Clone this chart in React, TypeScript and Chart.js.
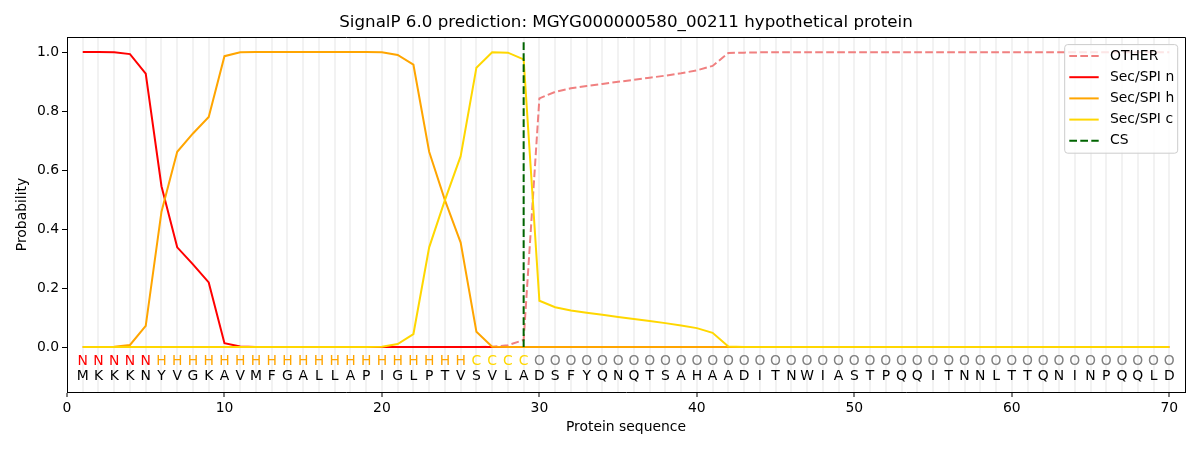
import { useEffect, useRef } from "react"
import { Chart, registerables } from "chart.js"

Chart.register(...registerables)

const FONT = "'DejaVu Sans', sans-serif"

const titleText = "SignalP 6.0 prediction: MGYG000000580_00211 hypothetical protein"

const residues = "MKKKNYVGKAVMFGALLAPIGLPTVSVLADSFYQNQTSAHAADITNWIASTPQQITNNLTTQNINPQQLD".split("")
const regions = (
  "NNNNN" +
  "HHHHHHHHHHHHHHHHHHHH" +
  "CCCC" +
  "OOOOOOOOOO" +
  "OOOOOOOOOO" +
  "OOOOOOOOOO" +
  "OOOOOOOOOO" +
  "O"
).split("")
const positions = residues.map((_, i) => i + 1)

const otherProb = [
  0, 0, 0, 0, 0, 0, 0, 0, 0, 0,
  0, 0, 0, 0, 0, 0, 0, 0, 0, 0,
  0, 0, 0, 0, 0, 0, 0.001, 0.006, 0.024, 0.843,
  0.865, 0.877, 0.885, 0.892, 0.899, 0.906, 0.913, 0.92, 0.928, 0.938,
  0.953, 0.997, 0.998, 0.999, 0.999, 0.999, 0.999, 0.999, 0.999, 0.999,
  0.999, 0.999, 0.999, 0.999, 0.999, 0.999, 0.999, 0.999, 0.999, 0.999,
  0.999, 0.999, 0.999, 0.999, 0.999, 0.999, 0.999, 0.999, 0.999, 0.999,
]
const secN = [
  1.0, 1.0, 0.999, 0.993, 0.927, 0.545, 0.338, 0.28, 0.219, 0.013,
  0.002, 0, 0, 0, 0, 0, 0, 0, 0, 0,
  0, 0, 0, 0, 0, 0, 0, 0, 0, 0,
  0, 0, 0, 0, 0, 0, 0, 0, 0, 0,
  0, 0, 0, 0, 0, 0, 0, 0, 0, 0,
  0, 0, 0, 0, 0, 0, 0, 0, 0, 0,
  0, 0, 0, 0, 0, 0, 0, 0, 0, 0,
]
const secH = [
  0, 0, 0.001, 0.007, 0.072, 0.459, 0.662, 0.724, 0.78, 0.986,
  0.999, 1.0, 1.0, 1.0, 1.0, 1.0, 1.0, 1.0, 1.0, 0.999,
  0.99, 0.957, 0.662, 0.498, 0.354, 0.052, 0.001, 0, 0, 0,
  0, 0, 0, 0, 0, 0, 0, 0, 0, 0,
  0, 0, 0, 0, 0, 0, 0, 0, 0, 0,
  0, 0, 0, 0, 0, 0, 0, 0, 0, 0,
  0, 0, 0, 0, 0, 0, 0, 0, 0, 0,
]
const secC = [
  0, 0, 0, 0, 0, 0, 0, 0, 0, 0,
  0, 0, 0, 0, 0, 0, 0, 0, 0, 0.001,
  0.01, 0.044, 0.338, 0.498, 0.647, 0.947, 0.999, 0.998, 0.975, 0.157,
  0.135, 0.124, 0.116, 0.109, 0.102, 0.095, 0.088, 0.081, 0.073, 0.064,
  0.048, 0.002, 0, 0, 0, 0, 0, 0, 0, 0,
  0, 0, 0, 0, 0, 0, 0, 0, 0, 0,
  0, 0, 0, 0, 0, 0, 0, 0, 0, 0,
]
const cleavageSite = 29
const cleavageSpan = [0, 1.035]

const xMin = 0
const xMax = 71
const yMin = -0.1525
const yMax = 1.051
const yTicks = [0, 0.2, 0.4, 0.6, 0.8, 1.0]
const regionRowY = -0.049
const residueRowY = -0.1

const regionColors: Record<string, string> = {
  N: "#ff0000",
  H: "#ffa500",
  C: "#ffd700",
  O: "#808080",
}

const DASH = [7.7, 3.3]

const legendItems = [
  { label: "OTHER", color: "#f08080", dash: DASH },
  { label: "Sec/SPI n", color: "#ff0000", dash: [] as number[] },
  { label: "Sec/SPI h", color: "#ffa500", dash: [] as number[] },
  { label: "Sec/SPI c", color: "#ffd700", dash: [] as number[] },
  { label: "CS", color: "#006400", dash: DASH },
]

const toPoints = (values: number[]) => values.map((y, i) => ({ x: positions[i], y }))

const overlayPlugin = {
  id: "overlay",
  afterDatasetsDraw(chart: any) {
    const { ctx, chartArea, scales } = chart
    const xs = scales.x
    const ys = scales.y
    ctx.save()

    // residue letters and region letters
    ctx.font = `13.9px ${FONT}`
    ctx.textAlign = "center"
    ctx.textBaseline = "middle"
    positions.forEach((p, i) => {
      const px = xs.getPixelForValue(p)
      ctx.fillStyle = regionColors[regions[i]]
      ctx.fillText(regions[i], px, ys.getPixelForValue(regionRowY))
      ctx.fillStyle = "#000"
      ctx.fillText(residues[i], px, ys.getPixelForValue(residueRowY))
    })

    // top and right spines
    ctx.strokeStyle = "#000"
    ctx.lineWidth = 1
    ctx.beginPath()
    ctx.moveTo(chartArea.left, Math.round(chartArea.top) + 0.5)
    ctx.lineTo(Math.round(chartArea.right) + 0.5, Math.round(chartArea.top) + 0.5)
    ctx.lineTo(Math.round(chartArea.right) + 0.5, chartArea.bottom)
    ctx.stroke()

    // title
    ctx.fillStyle = "#000"
    ctx.font = `16.7px ${FONT}`
    ctx.fillText(titleText, (chartArea.left + chartArea.right) / 2, 23)

    // legend
    const boxW = 113
    const boxH = 108.6
    const bx = chartArea.right - 7.3 - boxW
    const by = chartArea.top + 7.6
    ctx.beginPath()
    ctx.roundRect(bx, by, boxW, boxH, 3)
    ctx.fillStyle = "rgba(255,255,255,0.8)"
    ctx.fill()
    ctx.strokeStyle = "#cccccc"
    ctx.lineWidth = 1
    ctx.stroke()
    ctx.font = `13.9px ${FONT}`
    ctx.textAlign = "left"
    legendItems.forEach((item, i) => {
      const ly = by + 11.4 + i * 21.2
      ctx.beginPath()
      ctx.setLineDash(item.dash)
      ctx.strokeStyle = item.color
      ctx.lineWidth = 2
      ctx.moveTo(bx + 4.6, ly)
      ctx.lineTo(bx + 34, ly)
      ctx.stroke()
      ctx.setLineDash([])
      ctx.fillStyle = "#000"
      ctx.fillText(item.label, bx + 45.3, ly)
    })

    ctx.restore()
  },
}

export default function App() {
  const chartRef = useRef<HTMLCanvasElement>(null)
  const chartInstance = useRef<Chart | null>(null)

  useEffect(() => {
    document.body.style.margin = "0"
    const canvas = chartRef.current
    if (!canvas) return
    const ctx = canvas.getContext("2d")
    if (!ctx) return

    if (chartInstance.current) {
      chartInstance.current.destroy()
    }

    Chart.defaults.color = "#000"
    Chart.defaults.font.family = FONT

    const lineStyle = {
      pointRadius: 0,
      borderWidth: 2,
      tension: 0,
      fill: false,
    }

    chartInstance.current = new Chart(ctx, {
      type: "line",
      data: {
        datasets: [
          { ...lineStyle, label: "OTHER", data: toPoints(otherProb), borderColor: "#f08080", borderDash: DASH, order: 5 },
          { ...lineStyle, label: "Sec/SPI n", data: toPoints(secN), borderColor: "#ff0000", order: 4 },
          { ...lineStyle, label: "Sec/SPI h", data: toPoints(secH), borderColor: "#ffa500", order: 3 },
          { ...lineStyle, label: "Sec/SPI c", data: toPoints(secC), borderColor: "#ffd700", order: 2 },
          {
            ...lineStyle,
            label: "CS",
            data: cleavageSpan.map((y) => ({ x: cleavageSite, y })),
            borderColor: "#006400",
            borderDash: DASH,
            order: 1,
          },
        ],
      },
      options: {
        responsive: false,
        animation: false,
        layout: { padding: { top: 37, right: 15, left: 0, bottom: 0 } },
        plugins: {
          legend: { display: false },
          title: { display: false },
          tooltip: { enabled: false },
        },
        scales: {
          x: {
            type: "linear",
            min: xMin,
            max: xMax,
            afterBuildTicks: (scale: any) => {
              scale.ticks = [xMin, ...positions, xMax].map((value) => ({ value }))
            },
            afterFit: (scale: any) => {
              scale.height = 58
            },
            ticks: {
              autoSkip: false,
              maxRotation: 0,
              padding: 3,
              font: { size: 13.9 },
              callback: (v: any) => (Number(v) % 10 === 0 ? String(v) : ""),
            },
            grid: {
              drawOnChartArea: true,
              drawTicks: true,
              tickLength: 5,
              lineWidth: 2,
              color: (c: any) =>
                c.tick && c.tick.value >= 1 && c.tick.value <= 70 ? "#f2f2f2" : "rgba(0,0,0,0)",
              tickColor: (c: any) =>
                c.tick && c.tick.value % 10 === 0 ? "#000" : "rgba(0,0,0,0)",
              tickWidth: 1,
            },
            border: { display: true, color: "#000", width: 1 },
            title: {
              display: true,
              text: "Protein sequence",
              font: { size: 13.9 },
              padding: { top: 0, bottom: 14 },
            },
          },
          y: {
            type: "linear",
            min: yMin,
            max: yMax,
            afterBuildTicks: (scale: any) => {
              scale.ticks = yTicks.map((value) => ({ value }))
            },
            afterFit: (scale: any) => {
              scale.width = 67
            },
            ticks: {
              padding: 3,
              font: { size: 13.9 },
              callback: (v: any) => Number(v).toFixed(1),
            },
            grid: {
              drawOnChartArea: false,
              drawTicks: true,
              tickLength: 5,
              tickColor: "#000",
            },
            border: { display: true, color: "#000", width: 1 },
            title: {
              display: true,
              text: "Probability",
              font: { size: 13.9 },
              padding: { top: 14, bottom: 0 },
            },
          },
        },
      },
      plugins: [overlayPlugin],
    })

    return () => {
      if (chartInstance.current) {
        chartInstance.current.destroy()
        chartInstance.current = null
      }
    }
  }, [])

  return (
    <div style={{ width: 1200, height: 450 }}>
      <canvas ref={chartRef} width={1200} height={450}></canvas>
    </div>
  )
}
